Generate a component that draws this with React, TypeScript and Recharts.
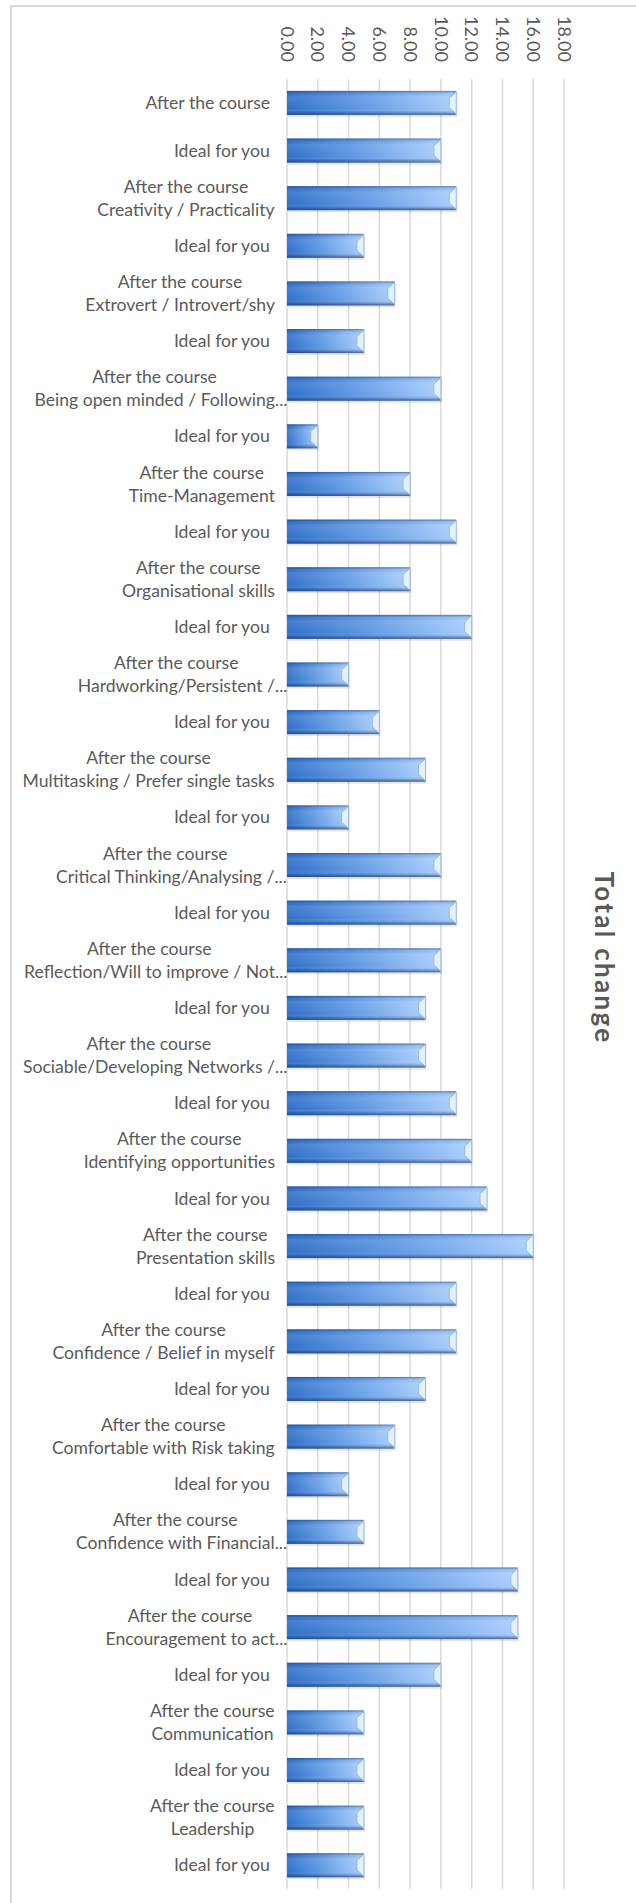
import React from 'react';
import { BarChart, Bar, XAxis, YAxis, CartesianGrid } from 'recharts';

// category labels, top to bottom ("\n" splits a label over two lines)
const categories: string[] = [
    'After the course ',
    'Ideal for you ',
    'After the course\nCreativity / Practicality',
    'Ideal for you ',
    'After the course\nExtrovert / Introvert/shy',
    'Ideal for you ',
    'After the course\nBeing open minded / Following...',
    'Ideal for you ',
    'After the course\nTime-Management',
    'Ideal for you ',
    'After the course\nOrganisational skills',
    'Ideal for you ',
    'After the course\nHardworking/Persistent /...',
    'Ideal for you ',
    'After the course\nMultitasking / Prefer single tasks',
    'Ideal for you ',
    'After the course\nCritical Thinking/Analysing /...',
    'Ideal for you ',
    'After the course\nReflection/Will to improve / Not...',
    'Ideal for you ',
    'After the course\nSociable/Developing Networks /...',
    'Ideal for you ',
    'After the course\nIdentifying opportunities',
    'Ideal for you ',
    'After the course\nPresentation skills',
    'Ideal for you ',
    'After the course\nConfidence / Belief in myself',
    'Ideal for you ',
    'After the course\nComfortable with Risk taking',
    'Ideal for you ',
    'After the course\nConfidence with Financial...',
    'Ideal for you ',
    'After the course\nEncouragement to act...',
    'Ideal for you ',
    'After the course\nCommunication',
    'Ideal for you ',
    'After the course\nLeadership',
    'Ideal for you ',
];

const totals: number[] = [
    11, 10, 11, 5, 7, 5, 10, 2, 8, 11,
    8, 12, 4, 6, 9, 4, 10, 11, 10, 9,
    9, 11, 12, 13, 16, 11, 11, 9, 7, 4,
    5, 15, 15, 10, 5, 5, 5, 5,
];

const xTicks: number[] = [0, 2, 4, 6, 8, 10, 12, 14, 16, 18];

const chartData = categories.map((name, i) => ({ name, total: totals[i] }));

const LABEL_SIZE = 17.6;
let ctx: CanvasRenderingContext2D | null = null;
const measure = (s: string) => {
    if (!ctx) ctx = document.createElement('canvas').getContext('2d');
    if (!ctx) return s.length * 8;
    ctx.font = `${LABEL_SIZE}px Lato`;
    return ctx.measureText(s.replace(/\.\.\.$/, '')).width;
};

const CategoryTick = ({ x, y, payload }: any) => {
    const lines = String(payload.value).split('\n');
    const widths = lines.map(measure);
    const block = Math.max(...widths);
    const lineH = 23;
    return (
        <g>
            {lines.map((line, i) => (
                <text
                    key={i}
                    x={x - block + (block - widths[i]) / 2}
                    y={y + (i - (lines.length - 1) / 2) * lineH}
                    dy="0.35em"
                    textAnchor="start"
                    fill="#5a5a5a"
                    fontSize={LABEL_SIZE}
                    fontFamily="Lato"
                >
                    {line.trimEnd()}
                </text>
            ))}
        </g>
    );
};

const ValueTick = ({ x, y, payload }: any) => (
    <text
        x={x}
        y={y}
        transform={`rotate(90, ${x}, ${y})`}
        textAnchor="end"
        dy="0.35em"
        fill="#595959"
        fontSize={18}
        fontFamily="Lato"
    >
        {Number(payload.value).toFixed(2)}
    </text>
);

// excel style bevelled bar
const BevelBar = (props: any) => {
    const { x, y, width, height } = props;
    if (!width || width <= 0) return null;
    const r = x + width;
    return (
        <g>
            <defs>
                <linearGradient id="barFill" x1="0" y1="0" x2="1" y2="0">
                    <stop offset="0%" stopColor="#3170c8" />
                    <stop offset="45%" stopColor="#619ae4" />
                    <stop offset="100%" stopColor="#abcffd" />
                </linearGradient>
                <linearGradient id="barShade" x1="0" y1="0" x2="0" y2="1">
                    <stop offset="0%" stopColor="rgb(25,55,110)" stopOpacity={0.55} />
                    <stop offset="9%" stopColor="rgb(25,55,110)" stopOpacity={0.08} />
                    <stop offset="25%" stopColor="#ffffff" stopOpacity={0.1} />
                    <stop offset="75%" stopColor="#ffffff" stopOpacity={0} />
                    <stop offset="90%" stopColor="rgb(25,55,110)" stopOpacity={0.25} />
                    <stop offset="100%" stopColor="rgb(25,55,110)" stopOpacity={0.7} />
                </linearGradient>
            </defs>
            <rect x={x + 1} y={y + 2} width={width} height={height} fill="rgba(0,0,0,0.10)" />
            <rect x={x} y={y} width={width} height={height} fill="url(#barFill)" />
            <rect x={x} y={y} width={width} height={height} fill="url(#barShade)" />
            <polygon
                points={`${r},${y + 1} ${r - 7},${y + height * 0.3} ${r - 7},${y + height * 0.7} ${r},${y + height - 1}`}
                fill="#e4f1ff"
                stroke="#86b0e3"
                strokeWidth={0.8}
            />
        </g>
    );
};

export default function App() {
    return (
        <div style={{ position: 'absolute', left: 0, top: 0, width: 636, height: 1903, background: '#fff', overflow: 'hidden' }}>
            <div style={{ position: 'absolute', left: 10, top: 5, width: 700, height: 2000, borderTop: '2px solid #d9d9d9', borderLeft: '2px solid #d9d9d9' }} />
            <div style={{ position: 'absolute', left: 0, top: 0 }}>
                <BarChart
                    width={636}
                    height={1903}
                    data={chartData}
                    layout="vertical"
                    margin={{ top: 5, right: 72, bottom: 14, left: 0 }}
                    barCategoryGap="25%"
                >
                    <CartesianGrid horizontal={false} stroke="#d9d9d9" strokeWidth={1.5} />
                    <XAxis
                        type="number"
                        orientation="top"
                        domain={[0, 18]}
                        ticks={xTicks}
                        height={74}
                        axisLine={false}
                        tickLine={false}
                        tickSize={0}
                        tickMargin={17}
                        tick={<ValueTick />}
                        interval={0}
                    />
                    <YAxis
                        type="category"
                        dataKey="name"
                        width={287}
                        axisLine={false}
                        tickLine={false}
                        tickSize={0}
                        tickMargin={12}
                        tick={<CategoryTick />}
                        interval={0}
                    />
                    <Bar dataKey="total" shape={<BevelBar />} isAnimationActive={false} />
                </BarChart>
            </div>
            <div
                style={{
                    position: 'absolute',
                    left: 605,
                    top: 958,
                    transform: 'translate(-50%, -50%) rotate(90deg)',
                    whiteSpace: 'nowrap',
                    fontFamily: 'Lato',
                    fontWeight: 'bold',
                    fontSize: 26,
                    letterSpacing: 2.3,
                    color: '#595959',
                }}
            >
                Total change
            </div>
        </div>
    );
}
